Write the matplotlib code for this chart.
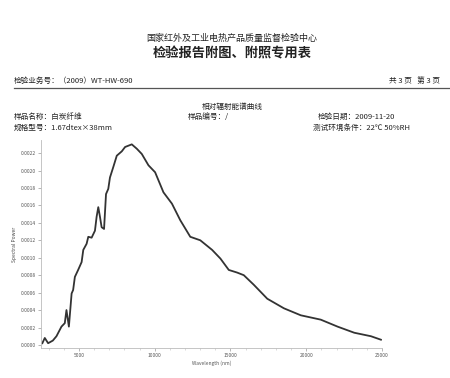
import matplotlib
matplotlib.use('Agg')
from matplotlib import pyplot as plt
from matplotlib.ticker import MultipleLocator, FormatStrFormatter

plt.rcParams['font.family'] = ['Noto Sans CJK SC', 'DejaVu Sans']

# wavelength (nm) and relative spectral power
wavelength = [2590, 2750, 2970, 3280, 3520, 3850, 4070, 4180, 4340, 4520,
              4620, 4735, 4950, 5180, 5290, 5510, 5620, 5840, 6060, 6170,
              6280, 6390, 6500, 6660, 6790, 6940, 7050, 7270, 7500, 7830,
              8050, 8490, 8820, 9150, 9590, 10030, 10580, 11140, 11690, 12350,
              13010, 13790, 14340, 14890, 15440, 15880, 16540, 17430, 18530, 19640,
              20960, 22070, 23170, 24270, 24930]
power = [0.00002, 0.00008, 0.00002, 0.00005, 0.00010, 0.00021, 0.00025, 0.00040, 0.00021, 0.00059,
         0.00063, 0.00078, 0.00086, 0.00095, 0.00109, 0.00116, 0.00124, 0.00123, 0.00131, 0.00147,
         0.00158, 0.00147, 0.00135, 0.00133, 0.00173, 0.00179, 0.00192, 0.00204, 0.00217, 0.00222,
         0.00227, 0.00230, 0.00225, 0.00219, 0.00206, 0.00198, 0.00175, 0.00162, 0.00143, 0.00124,
         0.00120, 0.00109, 0.00099, 0.00086, 0.00083, 0.00080, 0.00069, 0.00053, 0.00042, 0.00034,
         0.00029, 0.00021, 0.00014, 0.00010, 0.00006]

title1 = '国家红外及工业电热产品质量监督检验中心'
title2 = '检验报告附图、附照专用表'
job_no = '检验业务号：（2009）WT-HW-690'
pages = '共 3 页   第 3 页'
chart_title = '相对辐射能谱曲线'
sample_name = '样品名称：白炭纤维'
sample_no = '样品编号：/'
test_date = '检验日期：2009-11-20'
spec = '规格型号：1.67dtex×38mm'
env = '测试环境条件：22℃ 50%RH'

fig = plt.figure(figsize=(4.5, 3.78), dpi=100)
W, H = 450.0, 378.0

def put(x, y, s, **kw):
  fig.text(x / W, 1 - y / H, s, va='center', color='#222222', **kw)

put(232, 38, title1, ha='center', fontsize=6.5)
put(232, 53, title2, ha='center', fontsize=9.5, fontweight='bold')
put(14, 81, job_no, ha='left', fontsize=5.5)
put(440, 81, pages, ha='right', fontsize=5.5)
fig.add_artist(plt.Line2D([14 / W, 450 / W], [1 - 88 / H, 1 - 88 / H], color='#555555', lw=0.9))
put(232, 107, chart_title, ha='center', fontsize=5.5)
put(14, 117, sample_name, ha='left', fontsize=5.5)
put(188, 117, sample_no, ha='left', fontsize=5.5)
put(318, 117, test_date, ha='left', fontsize=5.5)
put(14, 128, spec, ha='left', fontsize=5.5)
put(313, 128, env, ha='left', fontsize=5.5)

ax = fig.add_axes([41 / W, 1 - 348 / H, (382 - 41) / W, (348 - 140) / H])
ax.plot(wavelength, power, color='#333333', lw=1.3)
ax.set_xlim(2500, 25000)
ax.set_ylim(-0.000035, 0.00235)
ax.spines['top'].set_visible(False)
ax.spines['right'].set_visible(False)
for s in ['left', 'bottom']:
  ax.spines[s].set_color('#bbbbbb')
  ax.spines[s].set_linewidth(0.6)
ax.xaxis.set_major_locator(MultipleLocator(5000))
ax.xaxis.set_minor_locator(MultipleLocator(1000))
ax.yaxis.set_major_locator(MultipleLocator(0.0002))
ax.yaxis.set_major_formatter(FormatStrFormatter('%.4f'))
ax.tick_params(axis='both', which='major', labelsize=3.5, length=2, width=0.5,
               color='#999999', labelcolor='#555555', pad=1.5)
ax.tick_params(axis='x', which='minor', length=1.5, width=0.4, color='#bbbbbb')
ax.set_xlabel('Wavelength (nm)', fontsize=3.5, color='#555555', labelpad=2)
ax.set_ylabel('Spectral Power', fontsize=3.5, color='#444444', labelpad=3)

fig.savefig('out.png', dpi=100)
